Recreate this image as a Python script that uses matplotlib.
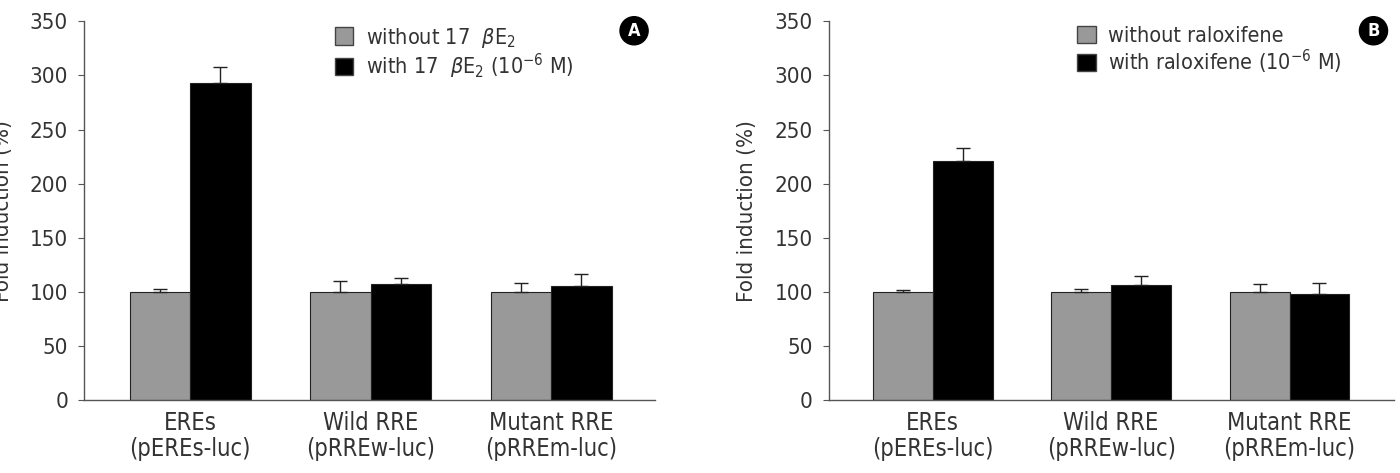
import matplotlib
matplotlib.use("Agg")
import matplotlib.pyplot as plt
import numpy as np
from matplotlib.patches import Patch

plt.rcParams["font.family"] = ["DejaVu Sans"]
plt.rcParams["font.stretch"] = "condensed"

categories = ["EREs\n(pEREs-luc)", "Wild RRE\n(pRREw-luc)", "Mutant RRE\n(pRREm-luc)"]

# panel A: 17 beta-estradiol
a_without = [100, 100, 100]
a_without_err = [3, 10, 8]
a_with = [293, 107, 105]
a_with_err = [15, 6, 12]

# panel B: raloxifene
b_without = [100, 100, 100]
b_without_err = [2, 3, 7]
b_with = [221, 106, 98]
b_with_err = [12, 9, 10]

yticks = [0, 50, 100, 150, 200, 250, 300, 350]

GRAY = "#999999"
TEXT = "#333333"


def draw_panel(ax, without, without_err, with_, with_err, labels, letter, xlim, ylab_x):
    x = np.arange(len(categories))
    w = 0.335
    ax.bar(x - w / 2, without, w, color=GRAY, edgecolor="#222222", lw=0.8,
           yerr=[np.zeros(3), without_err], capsize=5,
           error_kw=dict(elinewidth=1, capthick=1, ecolor="#222222"))
    ax.bar(x + w / 2, with_, w, color="black", edgecolor="#222222", lw=0.8,
           yerr=[np.zeros(3), with_err], capsize=5,
           error_kw=dict(elinewidth=1, capthick=1, ecolor="#222222"))
    ax.set_xlim(*xlim)
    ax.set_ylim(0, 350)
    ax.set_yticks(yticks)
    ax.set_xticks(x)
    ax.set_xticklabels(categories, fontsize=17, color=TEXT, linespacing=1.1)
    ax.tick_params(axis="x", length=0, pad=8)
    ax.tick_params(axis="y", labelsize=16, labelcolor=TEXT, length=4.5, pad=7,
                   color="#555555")
    for s in ("top", "right"):
        ax.spines[s].set_visible(False)
    for s in ("left", "bottom"):
        ax.spines[s].set_color("#555555")
        ax.spines[s].set_linewidth(1)
    ax.set_ylabel("Fold induction (%)", fontsize=16, color=TEXT)
    ax.yaxis.set_label_coords(ylab_x, 0.5)

    handles = [Patch(facecolor=GRAY, edgecolor="#444444"),
               Patch(facecolor="black", edgecolor="#444444")]
    ax.legend(handles, labels, loc="upper left", bbox_to_anchor=(0.405, 1.04),
              frameon=False, fontsize=15.5, handlelength=0.85, handleheight=0.85,
              handletextpad=0.6, labelspacing=0.1, labelcolor=TEXT)

    ax.text(0.963, 0.975, letter, transform=ax.transAxes, ha="center", va="center",
            fontsize=13, fontweight="bold", color="white",
            bbox=dict(boxstyle="circle,pad=0.28", fc="black", ec="black"))


fig = plt.figure(figsize=(14, 4.73), dpi=100)
ax_a = fig.add_axes([0.06, 0.154, 0.408, 0.801])
ax_b = fig.add_axes([0.592, 0.154, 0.404, 0.801])

# panel A's y label sits partly past the left edge, as in the reference
draw_panel(ax_a, a_without, a_without_err, a_with, a_with_err,
           ["without 17  $\\beta$E$_2$", "with 17  $\\beta$E$_2$ (10$^{-6}$ M)"],
           "A", (-0.587, 2.576), -0.124)
draw_panel(ax_b, b_without, b_without_err, b_with, b_with_err,
           ["without raloxifene", "with raloxifene (10$^{-6}$ M)"],
           "B", (-0.583, 2.588), -0.127)

fig.savefig("out.png", dpi=100)
